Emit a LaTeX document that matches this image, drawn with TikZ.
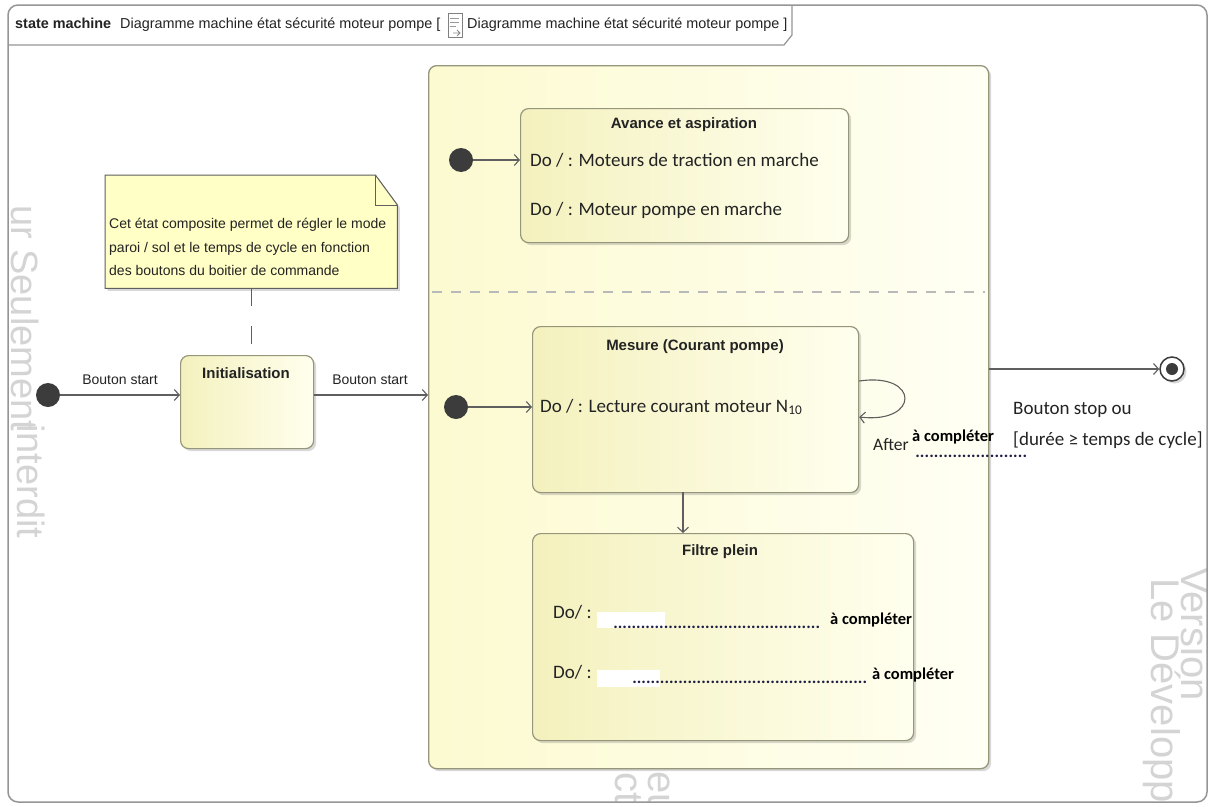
\documentclass[tikz,border=0pt]{standalone}
\usepackage{fontspec}
\setmainfont{Liberation Sans}
\newfontfamily\calfont{Carlito}
\usetikzlibrary{arrows.meta,shadows,calc}
\definecolor{framec}{RGB}{150,150,150}
\definecolor{stbord}{RGB}{150,150,122}
\definecolor{stA}{RGB}{244,241,190}
\definecolor{stB}{RGB}{255,255,238}
\definecolor{cmpA}{RGB}{252,250,208}
\definecolor{cmpB}{RGB}{255,255,244}
\definecolor{noteF}{RGB}{255,255,198}
\definecolor{noteB}{RGB}{95,95,95}
\definecolor{txt}{RGB}{35,35,35}
\definecolor{arr}{RGB}{95,95,95}
\definecolor{dotc}{RGB}{30,30,70}
\definecolor{wm}{RGB}{212,212,212}
\definecolor{pseudo}{RGB}{60,60,60}
\begin{document}
\begin{tikzpicture}[x=1pt,y=-1pt,
  shade/.style={drop shadow={opacity=0.3,shadow xshift=2.5pt,shadow yshift=-2.5pt}},
  statebox/.style={draw=stbord,line width=1.2pt,rounded corners=8pt,left color=stA,right color=stB,shade,anchor=north west,inner sep=0},
  compbox/.style={draw=stbord,line width=1.3pt,rounded corners=8pt,left color=cmpA,right color=cmpB,shade,anchor=north west,inner sep=0},
  initst/.style={circle,fill=pseudo,minimum size=24pt,inner sep=0},
  tr/.style={draw=arr,line width=1.1pt,-{Straight Barb[length=5pt,width=11pt,line width=1.1pt]}},
  lbl/.style={font=\fontsize{14}{16}\selectfont,text=txt,inner sep=0},
  hdr/.style={font=\fontsize{14.4}{16}\selectfont,text=txt,inner sep=0},
  ttl/.style={font=\fontsize{15}{17}\selectfont\bfseries,text=txt,inner sep=0},
  cal/.style={font=\calfont\fontsize{19}{22}\selectfont,text=txt,inner sep=0},
  calb/.style={font=\calfont\fontsize{16.5}{19}\selectfont\bfseries,text=black,inner sep=0},
  dotrow/.style={font=\calfont\fontsize{17}{19}\selectfont\bfseries,text=dotc,inner sep=0,anchor=base west},
  wmk/.style={font=\fontsize{40}{44}\selectfont,text=wm,inner sep=0,rotate=-90,anchor=base west}
]
\useasboundingbox (0,0) rectangle (1210,806);
\fill[white] (0,0) rectangle (1210,806);
% watermark
\begin{scope}
\clip[rounded corners=10pt] (8,5) rectangle (1207,802);
\node[wmk,font=\fontsize{38}{44}\selectfont] (w1) at (11,205) {ur Seulement};
\node[wmk,font=\fontsize{38}{44}\selectfont] (w2) at (17,424) {interdit};
\node[wmk] (w3) at (1181,567) {Version};
\node[wmk] (w4) at (1151,578) {Le Développ};
\node[wmk] (w5) at (615,772) {cté};
\node[wmk] (w6) at (648,771) {eu};
\end{scope}
% frame
\draw[framec,line width=1.5pt,rounded corners=10pt] (8,5) rectangle (1207,802);
\draw[framec,line width=1.2pt] (8,45) -- (784,45) -- (792,35) -- (792,5);
\node[hdr,anchor=west] (hdr1) at (15,25) {\textbf{state machine}\hspace{5pt} Diagramme machine état sécurité moteur pompe [};
\draw[gray,fill=white,line width=0.6pt] (448,13) rectangle (462,37);
\draw[gray!80,line width=0.8pt] (450,18) -- (459,18) (450,22) -- (459,22) (450,26) -- (456,26);
\draw[gray!90,line width=0.8pt] (453,33) -- (460,33) (457,30) -- (460,33) -- (457,36);
\node[hdr,anchor=west] (hdr2) at (467,25) {Diagramme machine état sécurité moteur pompe ]};
% note
\node[inner sep=0,minimum width=292pt,minimum height=113pt,anchor=north west] (note) at (105,175) {};
\draw[draw=noteB,fill=noteF,line width=1pt,shade] (note.north west) -- ($(note.north east)+(-22,0)$) -- ($(note.north east)+(0,30)$) -- (note.south east) -- (note.south west) -- cycle;
\draw[noteB,line width=1pt] ($(note.north east)+(-22,0)$) -- ($(note.north east)+(-22,30)$) -- ($(note.north east)+(0,30)$);
\node[lbl,anchor=north west,align=left,font=\fontsize{14}{23.5}\selectfont] (notetxt) at (109,218) {Cet état composite permet de régler le mode\\paroi / sol et le temps de cycle en fonction\\des boutons du boitier de commande};
% initialisation
\node[statebox,minimum width=133pt,minimum height=93pt] (init) at (180,355) {};
\node[ttl] (initT) at (246,373) {Initialisation};
\draw[noteB,line width=1pt,dash pattern=on 18pt off 20pt] (note.south) -- (note.south |- init.north);
\node[initst] (i0) at (48,395) {};
\draw[tr] (i0) -- (i0 -| init.west);
\node[lbl] (bs1) at (120,380) {Bouton start};
% composite
\node[compbox,minimum width=560pt,minimum height=703pt] (comp) at (428,65) {};
\draw[tr] (init.east |- i0) -- (i0 -| comp.west);
\node[lbl] (bs2) at (370,380) {Bouton start};
\coordinate (dvl) at (432,292);
\coordinate (dvr) at (985,292);
\draw[gray!55,line width=1.4pt,dash pattern=on 10pt off 9pt] (dvl) -- (dvr);
% avance
\node[statebox,minimum width=328pt,minimum height=134pt] (av) at (520,108) {};
\node[ttl] (avT) at (684,125) {Avance et aspiration};
\node[cal,anchor=west] (av1) at (530,160) {Do / : Moteurs de traction en marche};
\node[cal,anchor=west] (av2) at (530,210) {Do / : Moteur pompe en marche};
\node[initst] (i1) at (461,160) {};
\draw[tr] (i1) -- (i1 -| av.west);
% mesure
\node[statebox,minimum width=326pt,minimum height=166pt] (me) at (532,326) {};
\node[ttl] (meT) at (695,347) {Mesure (Courant pompe)};
\node[cal,anchor=west] (me1) at (540,407) {Do / : Lecture courant moteur N\textsubscript{10}};
\node[initst] (i2) at (456,407) {};
\draw[tr] (i2) -- (i2 -| me.west);
\coordinate (loopA) at ($(me.north east)+(0,55)$);
\coordinate (loopB) at ($(me.north east)+(0,91)$);
\draw[tr] (loopA) .. controls (920,372) and (920,424) .. (loopB);
\node[cal,anchor=base west,font=\calfont\fontsize{17.5}{20}\selectfont] (after) at (873,450) {After};
\node[calb,anchor=base west] (aft2) at (912,441) {à compléter};
\node[dotrow] (aftd) at (915,457) {\hbox to 112pt{\xleaders\hbox{.}\hfill}};
% filtre plein
\node[statebox,minimum width=381pt,minimum height=207pt] (fp) at (532,533) {};
\coordinate (ms) at (683,492);
\draw[tr] (ms) -- (ms |- fp.north);
\node[ttl] (fpT) at (720,552) {Filtre plein};
\node[cal,anchor=west] (fp1) at (553,612) {Do/ :};
\fill[white] (597,612) rectangle (665,628);
\node[dotrow] (fp1d) at (613,628) {\hbox to 207pt{\xleaders\hbox{.}\hfill}};
\node[calb,anchor=west] (fp1c) at (830,620) {à compléter};
\node[cal,anchor=west] (fp2) at (553,672) {Do/ :};
\fill[white] (597,670) rectangle (660,687);
\node[dotrow] (fp2d) at (632,683) {\hbox to 235pt{\xleaders\hbox{.}\hfill}};
\node[calb,anchor=west] (fp2c) at (872,675) {à compléter};
% final
\node[circle,draw=pseudo,line width=1.5pt,fill=white,minimum size=24pt,inner sep=0,shade] (fin) at (1172,369) {};
\fill[pseudo] (fin.center) circle (6pt);
\draw[tr] (comp.east |- fin) -- (fin);
\node[cal,anchor=west] (bst1) at (1013,410) {Bouton stop ou};
\node[cal,anchor=west] (bst2) at (1013,440) {[durée ≥ temps de cycle]};
\end{tikzpicture}
\end{document}
